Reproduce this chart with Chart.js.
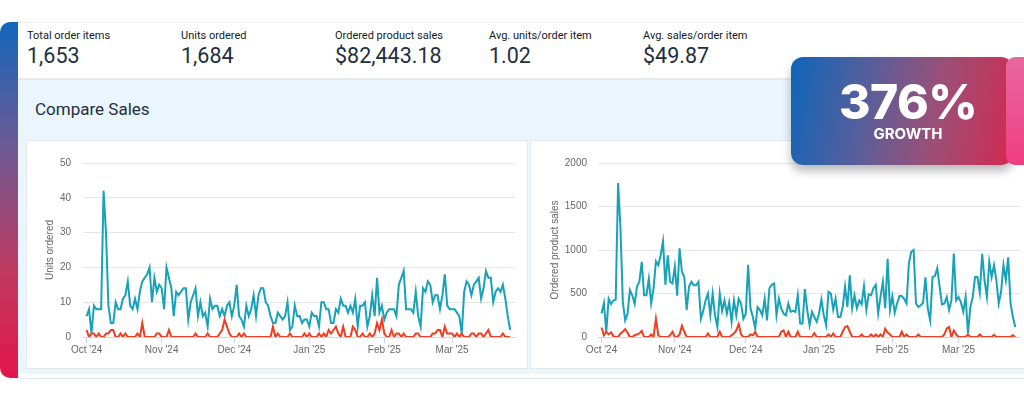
<!DOCTYPE html>
<html>
<head>
<meta charset="utf-8">
<script src="https://cdn.jsdelivr.net/npm/chart.js@4.4.0/dist/chart.umd.min.js"></script>
<style>
  body { margin: 0; width: 1024px; height: 397px; overflow: hidden; background: #fff; position: relative; font-family: Roboto, "Liberation Sans", sans-serif; }
  .bar { position: absolute; left: 0; top: 22px; width: 36px; height: 356px; border-radius: 10px; background: linear-gradient(to bottom, #1366bb 0%, #6d5a95 35%, #c03a60 70%, #e2154b 100%); }
  .card { position: absolute; left: 18px; top: 22px; width: 1020px; height: 355px; background: #fff; border-top: 1px solid #eceff1; border-bottom: 1px solid #e4e8eb; }
  .stat { position: absolute; top: 0; }
  .stat .lbl { position: absolute; top: 6px; font-size: 11px; line-height: 13px; color: #16191f; white-space: nowrap; }
  .stat .val { position: absolute; top: 20px; font-size: 21.5px; line-height: 25px; color: #232f3e; white-space: nowrap; }
  .divider { position: absolute; left: 0; top: 55px; width: 100%; height: 2px; background: #e6eaed; }
  .section { position: absolute; left: 0; top: 57px; width: 100%; height: 294px; background: #eaf5fd; }
  .section h2 { position: absolute; left: 17px; top: 19px; margin: 0; font-weight: 400; font-size: 17px; line-height: 20px; color: #232f3e; }
  .panel { position: absolute; top: 140px; height: 229px; background: #fff; border: 1px solid #e2e8ec; box-sizing: border-box; }
  canvas { position: absolute; }
  .badge { position: absolute; left: 791px; top: 57px; width: 222px; height: 108px; border-radius: 12px; background: linear-gradient(100deg, #0f65b9 0%, #5a5e9a 35%, #9c4f77 65%, #d3294f 100%); box-shadow: 0 6px 10px rgba(0,0,0,0.28); }
  .strip { position: absolute; left: 1006px; top: 57px; width: 30px; height: 108px; border-radius: 9px; background: linear-gradient(to bottom, #e868a0, #f03d80); }
  .big { position: absolute; left: 808px; top: 78px; width: 200px; text-align: center; font-family: Inter, sans-serif; font-weight: 800; font-size: 48px; line-height: 48px; color: #fff; letter-spacing: -0.5px; }
  .small { position: absolute; left: 808px; top: 126px; width: 200px; text-align: center; font-family: Inter, sans-serif; font-weight: 700; font-size: 15px; line-height: 15px; color: #fff; }
</style>
</head>
<body>
<div class="bar"></div>
<div class="card">
  <div class="stat" style="left:9px"><div class="lbl">Total order items</div><div class="val">1,653</div></div>
  <div class="stat" style="left:163px"><div class="lbl">Units ordered</div><div class="val">1,684</div></div>
  <div class="stat" style="left:317px"><div class="lbl">Ordered product sales</div><div class="val">$82,443.18</div></div>
  <div class="stat" style="left:471px"><div class="lbl">Avg. units/order item</div><div class="val">1.02</div></div>
  <div class="stat" style="left:625px"><div class="lbl">Avg. sales/order item</div><div class="val">$49.87</div></div>
  <div class="divider"></div>
  <div class="section"><h2>Compare Sales</h2></div>
</div>
<div class="panel" style="left:26px; width:502px"></div>
<div class="panel" style="left:530px; width:496px"></div>
<canvas id="unitsChart" width="500" height="228" style="left:27px; top:141px"></canvas>
<canvas id="salesChart" width="491" height="228" style="left:531px; top:141px"></canvas>
<div class="badge"></div>
<div class="strip"></div>
<div class="big">376%</div>
<div class="small">GROWTH</div>

<script>
// daily values, Oct 1 2024 -> Mar 24 2025
let units_teal = [
    6, 8, 1, 9, 8, 8, 8, 42, 30, 9,
    4, 4, 10, 8, 8, 11, 12, 16, 9, 8,
    11, 8, 13, 16, 17, 18, 20, 10, 17, 13,
    15, 14, 8, 20, 17, 14, 6, 13, 12, 13,
    14, 14, 5, 10, 12, 14, 6, 10, 6, 7,
    3, 11, 8, 9, 9, 6, 8, 6, 9, 10,
    6, 9, 15, 6, 5, 3, 9, 6, 8, 12,
    6, 12,
    14, 14, 10, 9, 6, 4, 4, 7, 6, 5,
    6, 10, 2, 3, 9, 6, 6, 4, 5, 5,
    3, 7, 6, 6, 3, 10, 10, 8, 8, 4,
    4, 8, 7, 11, 9, 9, 7, 9, 7, 11,
    3, 9, 9, 10, 3, 6, 12, 6, 17, 7,
    9, 5, 7, 8, 8, 8, 6, 15, 17, 19,
    8, 8, 8, 7, 13, 6, 3, 14, 13, 16,
    15, 10, 12, 12, 8, 12, 18, 9, 8, 8,
    8, 7, 6, 1, 13, 16, 15, 12, 15, 16,
    17, 11, 14, 19, 17, 17, 10, 13, 14, 13,
    15, 11, 6, 2
]

let units_red = [
    2, 0, 1, 1, 0, 1, 0, 0, 1, 1,
    2, 2, 0, 0, 1, 0, 1, 0, 0, 0,
    0, 1, 0, 4, 0, 0, 0, 0, 0, 1,
    1, 0, 0, 0, 2, 0, 0, 0, 0, 0,
    0, 0, 0, 0, 0, 1, 0, 0, 0, 0,
    1, 0, 0, 0, 0, 1, 2, 5, 3, 1,
    0, 0, 0, 1, 0, 1, 0, 0, 0, 0,
    0, 0, 0, 0, 0, 0, 0, 3, 0, 1,
    0, 0, 0, 0, 1, 0, 0, 0, 0, 0,
    1, 0, 1, 0, 0, 0, 1, 0, 1, 0,
    2, 1, 2, 3, 1, 0, 3, 0, 0, 0,
    3, 2, 0, 0, 1, 0, 0, 1, 0, 1,
    4, 2, 5, 1, 0, 0, 2, 0, 1, 1,
    0, 1, 0, 0, 0, 0, 1, 1, 0, 0,
    0, 0, 0, 1, 1, 2, 2, 0, 3, 1,
    1, 1, 0, 1, 0, 1, 0, 0, 0, 1,
    1, 0, 1, 1, 0, 1, 2, 0, 0, 0,
    0, 0, 1, 0, 0, 0
]

let sales_teal = [
    270, 390, 60, 440, 380, 420, 430, 1770, 1250, 400,
    190, 270, 540, 480, 380, 580, 635, 865, 480, 480,
    670, 385, 560, 870, 825, 940, 1100, 600, 940, 635,
    615, 810, 475, 1020, 750, 690, 310, 580, 635, 595,
    595, 635, 210, 300, 420, 500, 250, 500, 250, 115,
    500, 300, 420, 270, 400, 175, 420, 250, 440, 385,
    210, 270, 830, 330, 230, 100, 345, 310, 250, 440,
    190, 560,
    600, 615, 250, 440, 330, 270, 250, 385, 290, 300,
    290, 480, 155, 155, 550, 310, 135, 290, 230, 175,
    270, 430, 250, 135, 520, 500, 315, 440, 230, 230,
    345, 580, 345, 710, 330, 480, 330, 420, 375, 585,
    310, 490, 480, 560, 600, 270, 460, 635, 330, 900,
    310, 470, 280, 385, 470, 470, 440, 385, 845, 980,
    1000, 385, 345, 365, 390, 685, 330, 190, 690, 700,
    790, 580, 375, 385, 460, 310, 420, 960, 420, 460,
    400, 290, 460, 40, 345, 460, 690, 690, 510, 955,
    655, 460, 865, 690, 825, 655, 385, 520, 825, 655,
    915, 385, 230, 115
]

let sales_red = [
    110, 20, 60, 30, 55, 10, 0, 0, 40, 60,
    90, 50, 0, 0, 20, 30, 40, 70, 0, 0,
    0, 30, 0, 210, 20, 0, 0, 0, 0, 20,
    60, 0, 0, 30, 130, 60, 0, 0, 0, 0,
    0, 0, 0, 0, 0, 40, 0, 0, 0, 0,
    60, 0, 0, 0, 0, 20, 40, 75, 150, 30,
    0, 0, 0, 30, 20, 60, 0, 0, 0, 0,
    0, 0, 0, 0, 0, 0, 60, 75, 0, 60,
    0, 0, 0, 60, 0, 0, 0, 0, 0, 0,
    45, 0, 0, 0, 0, 0, 30, 0, 40, 0,
    0, 0, 60, 115, 125, 60, 0, 0, 0, 0,
    30, 0, 0, 0, 30, 0, 30, 0, 30, 0,
    95, 50, 30, 0, 0, 0, 0, 60, 0, 30,
    0, 0, 0, 0, 30, 0, 0, 0, 0, 0,
    0, 0, 0, 0, 0, 30, 95, 115, 0, 75,
    30, 0, 0, 0, 0, 30, 0, 0, 0, 0,
    30, 0, 0, 0, 0, 0, 25, 0, 0, 0,
    0, 0, 0, 0, 20, 0
]

// day index of the first of each month
let month_ticks = [0, 31, 61, 92, 123, 151]
let month_labels = ["Oct '24", "Nov '24", "Dec '24", "Jan '25", "Feb '25", "Mar '25"]

let teal = "#17a2b8"
let red = "#ef3d22"
let tick_font = { family: "'Liberation Sans', Arial, sans-serif", size: 10 }

const toPoints = arr => arr.map((v, i) => ({ x: i, y: v }))

function makeChart(canvas, redData, tealData, yMax, yStep, yTitle, yWidth, titlePad, tickPad, rightPad) {
    return new Chart(canvas.getContext('2d'), {
        type: 'line',
        data: {
            datasets: [
                { data: toPoints(redData), borderColor: red, borderWidth: 2, pointRadius: 0, tension: 0 },
                { data: toPoints(tealData), borderColor: teal, borderWidth: 2, pointRadius: 0, tension: 0 }
            ]
        },
        options: {
            responsive: false,
            animation: false,
            devicePixelRatio: 1,
            layout: { padding: { top: 22, right: rightPad, left: 0, bottom: 0 } },
            plugins: { legend: { display: false }, tooltip: { enabled: false } },
            scales: {
                x: {
                    type: 'linear',
                    min: -1.5,
                    max: 177,
                    afterBuildTicks: s => { s.ticks = month_ticks.map(v => ({ value: v })) },
                    afterFit: s => { s.height = 32 },
                    ticks: {
                        autoSkip: false,
                        maxRotation: 0,
                        padding: 1,
                        color: '#666',
                        font: tick_font,
                        callback: (v, i) => month_labels[i]
                    },
                    grid: { drawOnChartArea: false, tickLength: 6, color: '#ccd6eb' },
                    border: { color: '#ccd6eb' }
                },
                y: {
                    min: 0,
                    max: yMax,
                    afterFit: s => { s.width = yWidth },
                    ticks: { stepSize: yStep, padding: tickPad, color: '#666', font: tick_font, callback: v => String(v) },
                    grid: { color: '#e6e6e6', drawTicks: false },
                    border: { display: false },
                    title: {
                        display: true,
                        text: yTitle,
                        color: '#666',
                        font: { family: "'Liberation Sans', Arial, sans-serif", size: 10 },
                        padding: { top: titlePad, bottom: 0 }
                    }
                }
            }
        }
    })
}

makeChart(document.getElementById('unitsChart'), units_red, units_teal, 50, 10, 'Units ordered', 56, 17, 12, 12)
makeChart(document.getElementById('salesChart'), sales_red, sales_teal, 2000, 500, 'Ordered product sales', 67, 18, 11, 2)
</script>
</body>
</html>
